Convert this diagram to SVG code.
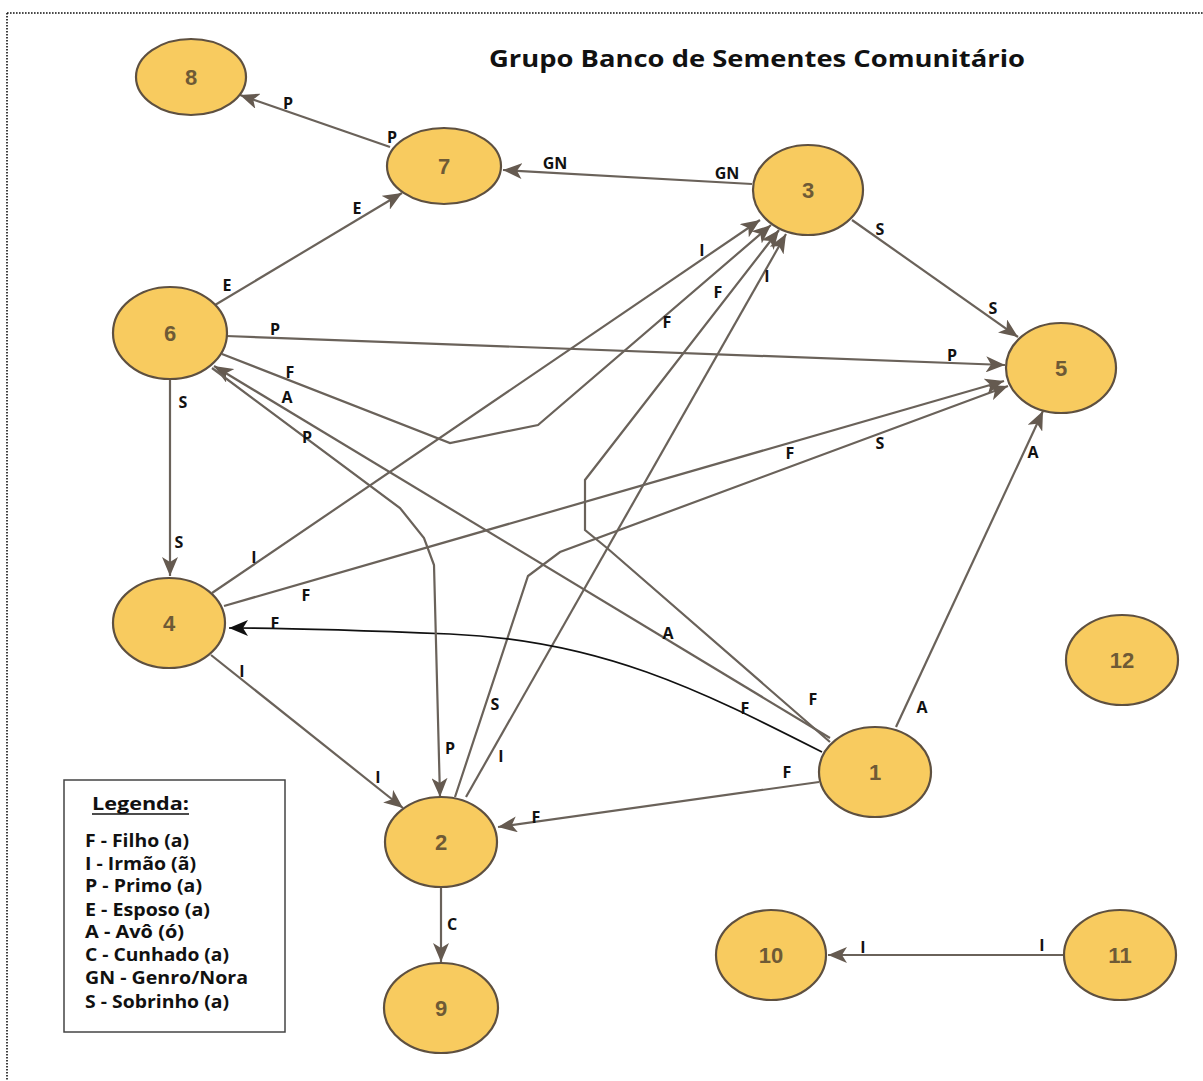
<svg xmlns="http://www.w3.org/2000/svg" width="1203" height="1081" viewBox="0 0 1203 1081">
  <style>
    .node ellipse { fill: #f8cb5f; stroke: #5e5040; stroke-width: 2.2; }
    .node text { font-family: "Liberation Sans", Arial, sans-serif; font-weight: bold; font-size: 22px; fill: #6e5a36; text-anchor: middle; }
    .edge { fill: none; stroke: #6a625a; stroke-width: 2.2; marker-end: url(#arrow); }
    .edge.dark { stroke: #111; stroke-width: 1.7; marker-end: url(#arrow-dark); }
    .lbl { font-family: "Open Sans", "Liberation Sans", sans-serif; font-weight: bold; font-size: 16px; fill: #111; text-anchor: middle; }
    .title { font-family: "Open Sans", "Liberation Sans", sans-serif; font-weight: bold; font-size: 23px; fill: #111; }
    .legend { font-family: "Open Sans", "Liberation Sans", sans-serif; font-weight: bold; font-size: 17.5px; fill: #111; }
  </style>
  <defs>
    <marker id="arrow" markerUnits="userSpaceOnUse" markerWidth="20" markerHeight="16" refX="19" refY="8" orient="auto">
      <path d="M0,0 L19,8 L0,16 L5,8 Z" fill="#655a50"/>
    </marker>
    <marker id="arrow-dark" markerUnits="userSpaceOnUse" markerWidth="20" markerHeight="16" refX="19" refY="8" orient="auto">
      <path d="M0,0 L19,8 L0,16 L5,8 Z" fill="#111"/>
    </marker>
  </defs>

  <rect width="1203" height="1081" fill="#fff"/>
  <!-- dotted frame (top and left edges) -->
  <path d="M7,13 H1203 M7,13 V1081" fill="none" stroke="#111" stroke-width="1.6" stroke-dasharray="1.6 1.4"/>

  <text class="title" x="489" y="67" textLength="536" lengthAdjust="spacingAndGlyphs">Grupo Banco de Sementes Comunitário</text>

  <!-- connectors -->
  <g id="edges">
    <path class="edge" d="M390,147 L240,95"/>
    <path class="edge" d="M752,184 L503,170"/>
    <path class="edge" d="M215,305 L402,193"/>
    <path class="edge" d="M852,220 L1018,337"/>
    <path class="edge" d="M226,336 L1005,365"/>
    <path class="edge" d="M170,379 L170,576"/>
    <path class="edge" d="M212,593 L760,220"/>
    <path class="edge" d="M222,354 L450,443 L538,425 L771,225"/>
    <path class="edge" d="M830,742 L607,548 L585,530 L585,480 L779,230"/>
    <path class="edge" d="M466,797 L786,234"/>
    <path class="edge" d="M455,797 L528,576 L560,552 L1008,386"/>
    <path class="edge" d="M224,606 L1004,381"/>
    <path class="edge dark" d="M822,752 C700,690 600,640 450,634 C350,630 290,628 229,628"/>
    <path class="edge" d="M211,655 L403,808"/>
    <path class="edge" d="M819,782 L498,827"/>
    <path class="edge" d="M896,727 L1043,411"/>
    <path class="edge" d="M441,888 L441,962"/>
    <path class="edge" d="M1064,955 L828,955"/>
    <path class="edge" d="M830,738 L214,366"/>
    <path class="edge" d="M212,368 L400,508 L424,538 L434,565 L440,797"/>
  </g>

  <!-- connector labels -->
  <g id="edge-labels">
    <text class="lbl" x="288" y="109">P</text>
    <text class="lbl" x="392" y="143">P</text>
    <text class="lbl" x="357" y="214">E</text>
    <text class="lbl" x="555" y="169">GN</text>
    <text class="lbl" x="727" y="179">GN</text>
    <text class="lbl" x="702" y="256">I</text>
    <text class="lbl" x="227" y="291">E</text>
    <text class="lbl" x="275" y="335">P</text>
    <text class="lbl" x="290" y="378">F</text>
    <text class="lbl" x="287" y="403">A</text>
    <text class="lbl" x="307" y="443">P</text>
    <text class="lbl" x="183" y="408">S</text>
    <text class="lbl" x="667" y="328">F</text>
    <text class="lbl" x="718" y="298">F</text>
    <text class="lbl" x="767" y="282">I</text>
    <text class="lbl" x="790" y="459">F</text>
    <text class="lbl" x="880" y="235">S</text>
    <text class="lbl" x="993" y="314">S</text>
    <text class="lbl" x="952" y="361">P</text>
    <text class="lbl" x="880" y="449">S</text>
    <text class="lbl" x="1033" y="458">A</text>
    <text class="lbl" x="179" y="548">S</text>
    <text class="lbl" x="254" y="563">I</text>
    <text class="lbl" x="306" y="601">F</text>
    <text class="lbl" x="275" y="629">F</text>
    <text class="lbl" x="242" y="677">I</text>
    <text class="lbl" x="495" y="710">S</text>
    <text class="lbl" x="668" y="639">A</text>
    <text class="lbl" x="813" y="705">F</text>
    <text class="lbl" x="745" y="714">F</text>
    <text class="lbl" x="922" y="713">A</text>
    <text class="lbl" x="501" y="762">I</text>
    <text class="lbl" x="787" y="778">F</text>
    <text class="lbl" x="536" y="823">F</text>
    <text class="lbl" x="450" y="754">P</text>
    <text class="lbl" x="378" y="783">I</text>
    <text class="lbl" x="452" y="930">C</text>
    <text class="lbl" x="863" y="953">I</text>
    <text class="lbl" x="1042" y="951">I</text>
  </g>

  <!-- nodes -->
  <g id="node-8" class="node"><ellipse cx="191" cy="77" rx="55" ry="38"/><text x="191" y="85">8</text></g>
  <g id="node-7" class="node"><ellipse cx="444" cy="166" rx="57" ry="38"/><text x="444" y="174">7</text></g>
  <g id="node-3" class="node"><ellipse cx="808" cy="190" rx="55" ry="45"/><text x="808" y="198">3</text></g>
  <g id="node-6" class="node"><ellipse cx="170" cy="333" rx="57" ry="46"/><text x="170" y="341">6</text></g>
  <g id="node-5" class="node"><ellipse cx="1061" cy="368" rx="55" ry="45"/><text x="1061" y="376">5</text></g>
  <g id="node-4" class="node"><ellipse cx="169" cy="623" rx="56" ry="45"/><text x="169" y="631">4</text></g>
  <g id="node-12" class="node"><ellipse cx="1122" cy="660" rx="56" ry="45"/><text x="1122" y="668">12</text></g>
  <g id="node-1" class="node"><ellipse cx="875" cy="772" rx="56" ry="45"/><text x="875" y="780">1</text></g>
  <g id="node-2" class="node"><ellipse cx="441" cy="842" rx="56" ry="45"/><text x="441" y="850">2</text></g>
  <g id="node-9" class="node"><ellipse cx="441" cy="1008" rx="57" ry="45"/><text x="441" y="1016">9</text></g>
  <g id="node-10" class="node"><ellipse cx="771" cy="955" rx="55" ry="45"/><text x="771" y="963">10</text></g>
  <g id="node-11" class="node"><ellipse cx="1120" cy="955" rx="56" ry="45"/><text x="1120" y="963">11</text></g>

  <!-- legend -->
  <g id="legend">
    <rect x="64" y="780" width="221" height="252" fill="#fff" stroke="#444" stroke-width="1.5"/>
    <text class="legend" x="92" y="810" textLength="97" lengthAdjust="spacingAndGlyphs">Legenda:</text>
    <line x1="92" y1="814" x2="189" y2="814" stroke="#111" stroke-width="1.5"/>
    <text class="legend" x="85" y="847" textLength="104" lengthAdjust="spacingAndGlyphs">F - Filho (a)</text>
    <text class="legend" x="85" y="870" textLength="111" lengthAdjust="spacingAndGlyphs">I - Irmão (ã)</text>
    <text class="legend" x="85" y="892" textLength="117" lengthAdjust="spacingAndGlyphs">P - Primo (a)</text>
    <text class="legend" x="85" y="916" textLength="125" lengthAdjust="spacingAndGlyphs">E - Esposo (a)</text>
    <text class="legend" x="85" y="938" textLength="99" lengthAdjust="spacingAndGlyphs">A - Avô (ó)</text>
    <text class="legend" x="85" y="961" textLength="144" lengthAdjust="spacingAndGlyphs">C - Cunhado (a)</text>
    <text class="legend" x="85" y="984" textLength="163" lengthAdjust="spacingAndGlyphs">GN - Genro/Nora</text>
    <text class="legend" x="85" y="1008" textLength="144" lengthAdjust="spacingAndGlyphs">S - Sobrinho (a)</text>
  </g>
</svg>
